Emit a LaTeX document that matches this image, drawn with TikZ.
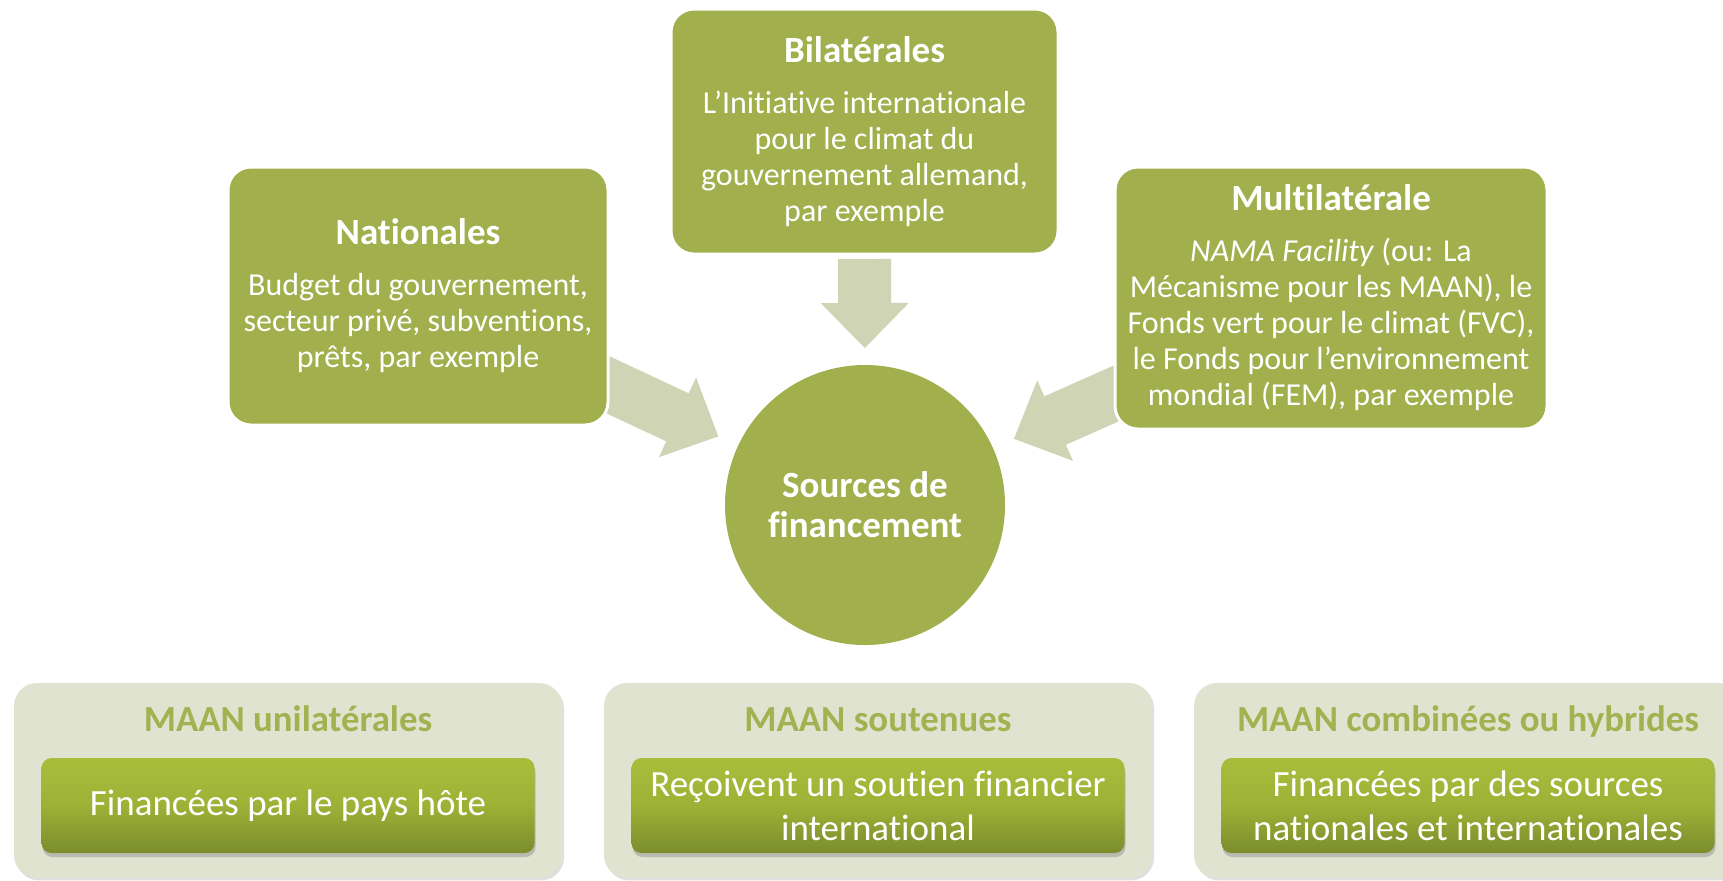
\documentclass[tikz,border=0pt]{standalone}
\usepackage{fontspec}
\setmainfont[Ligatures=NoCommon]{Carlito}
\usetikzlibrary{calc,shadows,backgrounds}

\definecolor{boxgreen}{HTML}{A1AF4C}
\definecolor{arrowsage}{HTML}{CFD5B4}
\definecolor{panelgrey}{HTML}{E1E3D1}
\definecolor{titlegreen}{HTML}{A0B350}
\definecolor{fintop}{HTML}{A9BD3C}
\definecolor{finmid}{HTML}{9DB136}
\definecolor{finbot}{HTML}{7B8D2C}

\newcommand{\boxtitle}[1]{{\fontsize{18.5}{18}\selectfont\bfseries #1}}
% block arrow from a source box towards the hub: #1 source, #2 tip distance, #3 length
\newcommand{\flowarrow}[3]{%
  \pgfmathanglebetweenpoints{\pgfpointanchor{hub}{center}}{\pgfpointanchor{#1}{center}}%
  \let\arrowangle\pgfmathresult
  \fill[flowfill, shift={($(hub.center)+(\arrowangle:#2)$)}, rotate=\arrowangle+180]
    (0,0) -- (-45,44) -- (-45,26.5) -- (-#3,26.5) -- (-#3,-26.5) -- (-45,-26.5) -- (-45,-44) -- cycle;}

\begin{document}
\begin{tikzpicture}[x=0.5pt, y=0.5pt,
    srcbox/.style={rounded corners=11.5pt, fill=boxgreen, draw=white, line width=1.5pt,
      text=white, align=center, inner sep=0pt, font=\fontsize{16}{18}\selectfont},
    hubnode/.style={circle, fill=boxgreen, minimum size=140pt, inner sep=0pt, text=white,
      align=center, font=\fontsize{18.5}{20}\selectfont\bfseries},
    flowfill/.style={fill=arrowsage},
    panel/.style={rounded corners=11.5pt, fill=panelgrey, minimum width=274pt, minimum height=97.5pt,
      inner sep=0pt, drop shadow={opacity=0.25, shadow xshift=1pt, shadow yshift=-1.2pt}},
    paneltitle/.style={anchor=base, text=titlegreen, font=\fontsize{18.4}{22}\selectfont\bfseries},
    finbox/.style={rounded corners=5pt, top color=fintop, bottom color=finbot, middle color=finmid,
      minimum width=246.5pt, minimum height=47.5pt, inner sep=0pt, text=white, align=center,
      font=\fontsize{18.5}{22}\selectfont,
      drop shadow={opacity=0.4, shadow xshift=0.5pt, shadow yshift=-2pt}}]
  \useasboundingbox (0,0) rectangle (1723,-880);
  \clip (0,0) rectangle (1723,-880);

  % sources
  \node[srcbox, minimum width=190pt, minimum height=129pt] (nat) at (418,-296)
    {\boxtitle{Nationales}\\[7.5pt] Budget du gouvernement,\\ secteur privé, subventions,\\ prêts, par exemple};
  \node[srcbox, minimum width=193.5pt, minimum height=122.5pt] (bil) at (864.5,-131.5)
    {\boxtitle{Bilatérales}\\[7.5pt] L’Initiative internationale\\ pour le climat du\\ gouvernement allemand,\\ par exemple};
  \node[srcbox, minimum width=216pt, minimum height=131pt] (mul) at (1331,-298)
    {\boxtitle{Multilatérale}\\[7.5pt] \textit{NAMA Facility} (ou: La\\ Mécanisme pour les MAAN), le\\ Fonds vert pour le climat (FVC),\\ le Fonds pour l’environnement\\ mondial (FEM), par exemple};
  \node[hubnode] (hub) at (865,-505) {Sources de\\ financement};

  \begin{scope}[on background layer]
    \fill[white] (0,0) rectangle (1723,-880);
    \flowarrow{nat}{162}{140}
    \flowarrow{bil}{157}{89}
    \flowarrow{mul}{163}{140}
  \end{scope}

  % types of NAMA
  \foreach \cx/\nm/\ttltext/\fintext in {
      288/unil/{MAAN unilatérales}/{Financées par le pays hôte},
      878/sout/{MAAN soutenues}/{Reçoivent un soutien financier\\ international},
      1468/comb/{MAAN combinées ou hybrides}/{Financées par des sources\\ nationales et internationales}} {
    \node[panel] (pan\nm) at (\cx,-780.5) {};
    \node[paneltitle] (ttl\nm) at (\cx,-731) {\ttltext};
    \node[finbox] (fin\nm) at (\cx,-805.5) {\fintext};
  }
\end{tikzpicture}
\end{document}
